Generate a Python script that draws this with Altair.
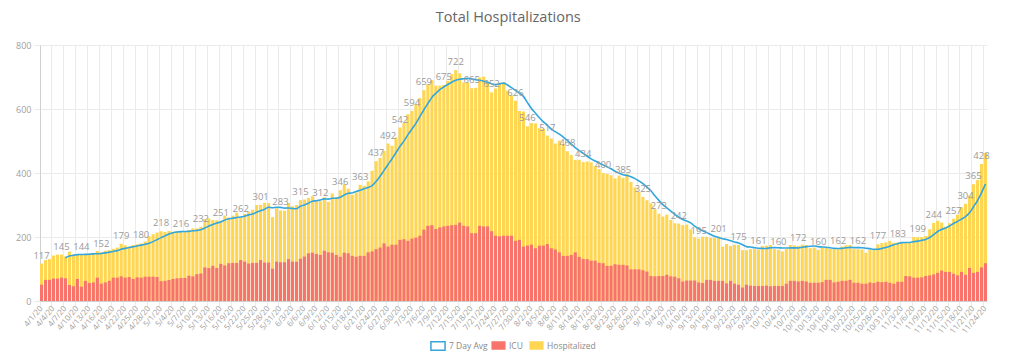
import datetime as dt
import altair as alt
import pandas as pd

FONT = "Open Sans"
START = dt.date(2020, 4, 1)

# Total hospitalized (ICU + non-ICU) per day, 4/1/20 .. 11/24/20
TOTAL = [
    117, 128, 131, 142, 145, 145, 139, 154, 145, 145,
    144, 147, 148, 148, 156, 152, 157, 159, 163, 167,
    179, 174, 170, 175, 177, 180, 186, 202, 209, 214,
    218, 216, 219, 216, 218, 216, 217, 222, 227, 227,
    232, 256, 258, 253, 252, 251, 267, 261, 267, 276,
    262, 272, 279, 285, 300, 301, 307, 306, 262, 290,
    283, 282, 306, 296, 300, 315, 317, 322, 327, 316,
    312, 324, 310, 336, 324, 346, 365, 351, 332, 339,
    363, 360, 374, 407, 437, 447, 469, 492, 485, 511,
    542, 556, 584, 594, 615, 634, 659, 678, 690, 673,
    673, 675, 688, 709, 722, 711, 683, 683, 665, 666,
    699, 701, 686, 652, 664, 682, 683, 657, 642, 626,
    594, 592, 546, 556, 555, 540, 537, 517, 508, 492,
    501, 490, 468, 456, 441, 441, 434, 436, 433, 422,
    412, 400, 397, 393, 383, 392, 385, 397, 372, 355,
    341, 325, 315, 305, 287, 273, 264, 270, 253, 243,
    242, 237, 239, 224, 199, 195, 201, 201, 197, 197,
    201, 170, 178, 172, 176, 175, 159, 159, 162, 162,
    161, 172, 173, 175, 162, 160, 155, 162, 175, 174,
    172, 176, 175, 165, 167, 160, 167, 167, 163, 162,
    162, 170, 174, 175, 162, 162, 161, 151, 160, 159,
    177, 181, 183, 188, 182, 183, 183, 181, 181, 200,
    199, 200, 203, 224, 244, 251, 245, 232, 243, 257,
    270, 293, 304, 329, 365, 378, 428, 462,
]

# ICU patients per day
ICU = [
    51, 66, 66, 70, 70, 73, 71, 50, 46, 69,
    45, 63, 56, 58, 73, 54, 58, 63, 73, 73,
    77, 73, 75, 69, 74, 73, 76, 76, 76, 75,
    62, 63, 66, 69, 71, 72, 72, 79, 77, 84,
    86, 105, 103, 110, 103, 116, 111, 118, 119, 119,
    128, 123, 117, 119, 119, 128, 120, 120, 101, 123,
    121, 121, 131, 123, 123, 132, 139, 149, 151, 147,
    144, 157, 152, 151, 144, 138, 151, 149, 141, 138,
    141, 141, 152, 155, 162, 167, 180, 170, 176, 176,
    191, 193, 188, 195, 198, 204, 223, 235, 237, 225,
    230, 233, 235, 237, 238, 245, 235, 233, 212, 212,
    235, 233, 233, 218, 204, 202, 204, 204, 204, 188,
    191, 170, 173, 176, 165, 173, 173, 178, 165, 161,
    152, 141, 141, 144, 152, 138, 131, 131, 126, 126,
    119, 118, 110, 110, 115, 113, 113, 111, 99, 99,
    99, 96, 92, 78, 77, 78, 78, 82, 77, 76,
    71, 61, 64, 64, 64, 58, 56, 66, 66, 63,
    63, 63, 55, 63, 54, 51, 42, 51, 48, 47,
    47, 47, 48, 46, 47, 47, 47, 54, 63, 63,
    61, 63, 61, 57, 57, 57, 59, 66, 66, 58,
    60, 63, 63, 66, 57, 57, 54, 54, 58, 56,
    60, 59, 60, 57, 54, 60, 60, 78, 77, 73,
    73, 74, 78, 80, 83, 88, 95, 91, 91, 85,
    80, 91, 82, 103, 88, 91, 105, 118,
]

# Dates whose bar carries a visible value label
LABEL_DATES = [
    "4/1/20", "4/6/20", "4/11/20", "4/16/20", "4/21/20", "4/26/20",
    "5/1/20", "5/6/20", "5/11/20", "5/16/20", "5/21/20", "5/26/20", "5/31/20",
    "6/5/20", "6/10/20", "6/15/20", "6/20/20", "6/24/20", "6/27/20", "6/30/20",
    "7/3/20", "7/6/20", "7/11/20", "7/14/20", "7/18/20", "7/23/20", "7/29/20",
    "8/1/20", "8/6/20", "8/11/20", "8/15/20", "8/20/20", "8/25/20", "8/30/20",
    "9/3/20", "9/8/20", "9/13/20", "9/18/20", "9/23/20", "9/28/20",
    "10/3/20", "10/8/20", "10/13/20", "10/18/20", "10/23/20", "10/28/20",
    "11/2/20", "11/7/20", "11/11/20", "11/16/20", "11/19/20", "11/21/20", "11/23/20",
]

SERIES = ["7 Day Avg", "ICU", "Hospitalized"]
COLORS = ["#33A6DC", "#F7736B", "#FFD652"]

DATES = []
for i in range(len(TOTAL)):
    d = START + dt.timedelta(days=i)
    DATES.append(f"{d.month}/{d.day}/20")
TICK_DATES = DATES[::3]

df = pd.DataFrame({"idx": range(len(TOTAL)), "date": DATES, "total": TOTAL, "icu": ICU})

RECT = "M-1,-0.6H1V0.6H-1Z"

x = alt.X(
    "date:N",
    sort=DATES,
    title=None,
    scale=alt.Scale(range=[0, 947], paddingInner=0.22, paddingOuter=0),
    axis=alt.Axis(
        values=TICK_DATES, labelAngle=-50, bandPosition=0, grid=True,
        gridColor="#ebebeb", tickColor="#ebebeb", tickSize=5,
        domainColor="#d0d0d0", labelColor="#a0a0a0", labelFontSize=8,
        labelFont=FONT, labelPadding=1,
    ),
)
yscale = alt.Scale(domain=[0, 800], nice=False)
yaxis = alt.Axis(
    values=list(range(0, 801, 100)), grid=True, gridColor="#ebebeb",
    tickColor="#ebebeb", tickSize=6, domainColor="#d0d0d0",
    labelColor="#a0a0a0", labelFontSize=9, labelFont=FONT, labelPadding=3,
)

base = alt.Chart(df).encode(x=x)

bar_legend = alt.Legend(
    title=None, orient="none", legendX=451, legendY=293, direction="horizontal",
    symbolType=RECT, symbolSize=200, symbolStrokeWidth=0, symbolOpacity=1,
    labelFontSize=8.5, labelColor="#8a8a8a", labelFont=FONT,
    columnPadding=6, labelOffset=3,
)
line_legend = alt.Legend(
    title=None, orient="none", legendX=390, legendY=293, direction="horizontal",
    symbolType=RECT, symbolSize=200, symbolStrokeWidth=1.5,
    symbolFillColor="white", labelFontSize=8.5, labelColor="#8a8a8a",
    labelFont=FONT, labelOffset=3,
)
color_scale = alt.Scale(domain=SERIES[1:], range=COLORS[1:])

hosp = base.transform_calculate(series="'Hospitalized'").mark_bar().encode(
    y=alt.Y("total:Q", scale=yscale, axis=yaxis, title=None, stack=None),
    color=alt.Color("series:N", scale=color_scale, legend=bar_legend),
)
icu = base.transform_calculate(series="'ICU'").mark_bar().encode(
    y=alt.Y("icu:Q", stack=None),
    color=alt.Color("series:N", scale=color_scale, legend=bar_legend),
)
avg = (
    base.transform_window(avg="mean(total)", frame=[-6, 0], sort=[alt.SortField("idx")])
    .transform_filter("datum.idx >= 6")
    .transform_calculate(line="'7 Day Avg'")
    .mark_line(interpolate="monotone", strokeWidth=1.6)
    .encode(
        y=alt.Y("avg:Q"),
        stroke=alt.Stroke("line:N", scale=alt.Scale(domain=SERIES[:1], range=COLORS[:1]), legend=line_legend),
    )
)
labels = (
    base.transform_filter(alt.FieldOneOfPredicate(field="date", oneOf=LABEL_DATES))
    .mark_text(baseline="bottom", dy=-3, fontSize=9.5, color="#9a9a9a", font=FONT)
    .encode(y=alt.Y("total:Q"), text=alt.Text("total:Q"))
)

chart = (
    alt.layer(hosp, icu, avg, labels)
    .properties(
        width=961, height=256,
        padding={"left": 7, "top": 1, "right": 3, "bottom": 0},
        title=alt.TitleParams(
            "Total Hospitalizations", fontSize=14.5, color="#666666", font=FONT,
            fontWeight="normal", anchor="middle", frame="bounds", offset=16,
        ),
    )
    .configure_view(stroke=None)
)

chart.save("out.html", embed_options={"renderer": "svg", "actions": False})
